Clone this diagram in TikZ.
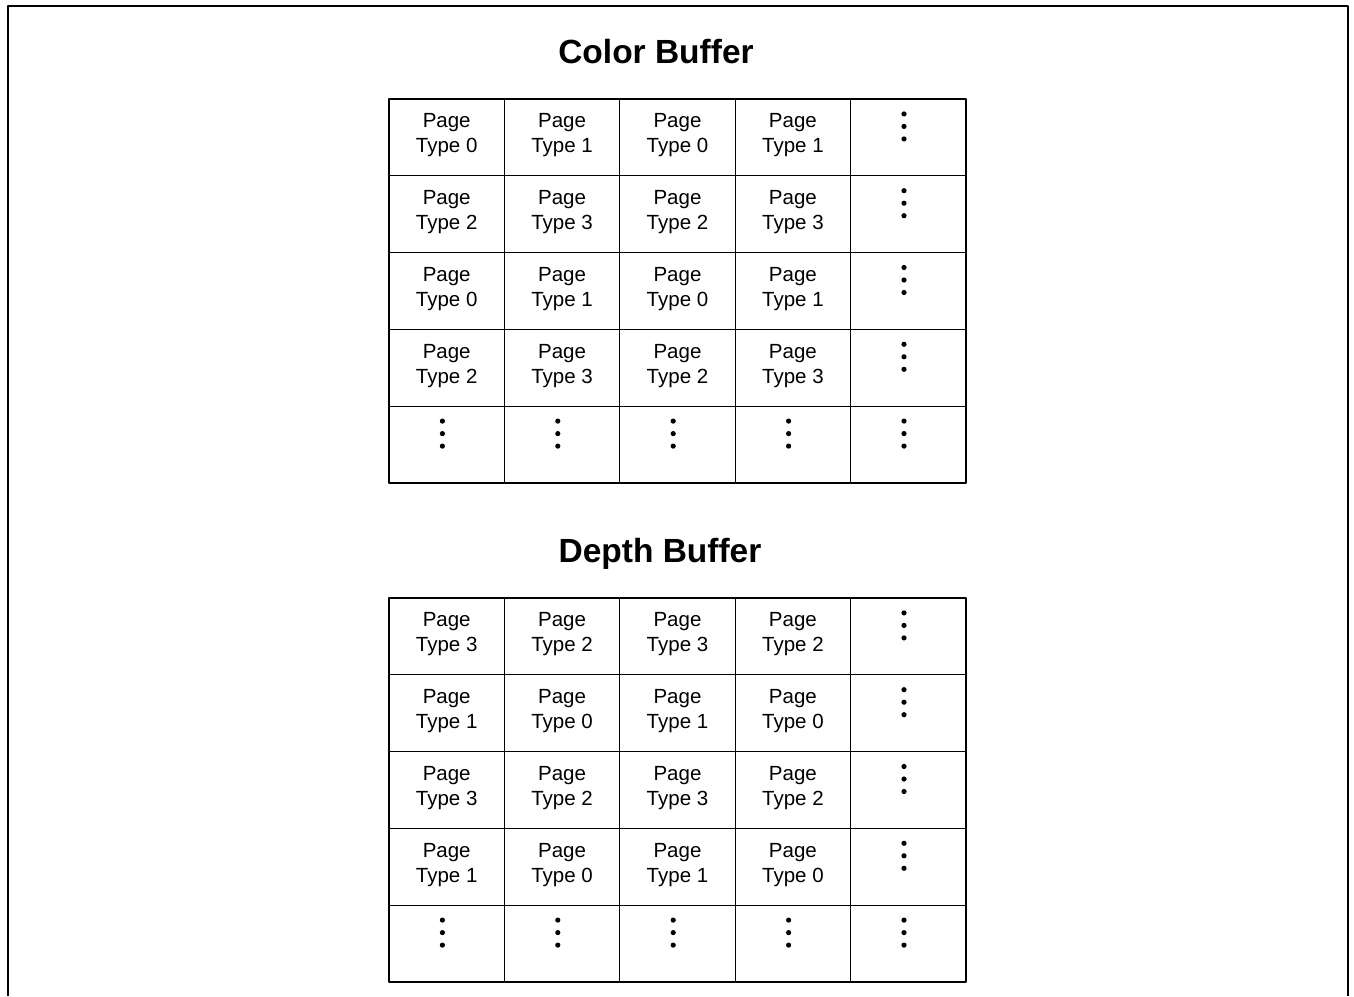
\documentclass[tikz,border=0pt]{standalone}
\usepackage{fontspec}
\setmainfont{Liberation Sans}
\usetikzlibrary{calc}
\tikzset{
 cell/.style={draw,line width=1.3pt,minimum width=115.4pt,minimum height=76.8pt,
  inner sep=0pt,align=center,text depth=8.5pt,font=\fontsize{20.5}{25}\selectfont},
 buftitle/.style={anchor=base,font=\fontsize{33.5}{40}\selectfont\bfseries}
}
\newcommand{\cellvdots}[1]{%
 \foreach \dy in {-23.5,-11,1.5}
  \fill ($(#1)+(-4.3,\dy)$) circle(2.6pt);}

\begin{document}
\begin{tikzpicture}[x=1pt,y=-1pt,line cap=round,line join=round]
 \useasboundingbox (0,0) rectangle (1354,996);
 % frame, open at the bottom
 \draw[line width=2pt,line cap=butt] (7.5,996) -- (7.5,6) -- (1348,6) -- (1348,996);

 \node[buftitle] (colortitle) at (656,63) {Color Buffer};
 \node[buftitle] (depthtitle) at (660,562) {Depth Buffer};

 % two buffers, 4 rows of pages + a row of dots
 \foreach \g/\top/\pa/\pb/\pc/\pd in {col/99/0/1/2/3,dep/598/3/2/1/0}{
  \foreach \r/\a/\b in {1/\pa/\pb,2/\pc/\pd,3/\pa/\pb,4/\pc/\pd}{
   \foreach \c/\ty in {1/\a,2/\b,3/\a,4/\b}
    \node[cell] (\g-\r-\c) at ({389+115.4*(\c-0.5)},{\top+76.8*(\r-0.5)}) {Page\\Type \ty};
   \node[cell] (\g-\r-5) at ({389+115.4*4.5},{\top+76.8*(\r-0.5)}) {};
   \cellvdots{\g-\r-5}
  }
  \foreach \c in {1,...,5}{
   \node[cell] (\g-5-\c) at ({389+115.4*(\c-0.5)},{\top+76.8*4.5}) {};
   \cellvdots{\g-5-\c}
  }
 }
\end{tikzpicture}
\end{document}
